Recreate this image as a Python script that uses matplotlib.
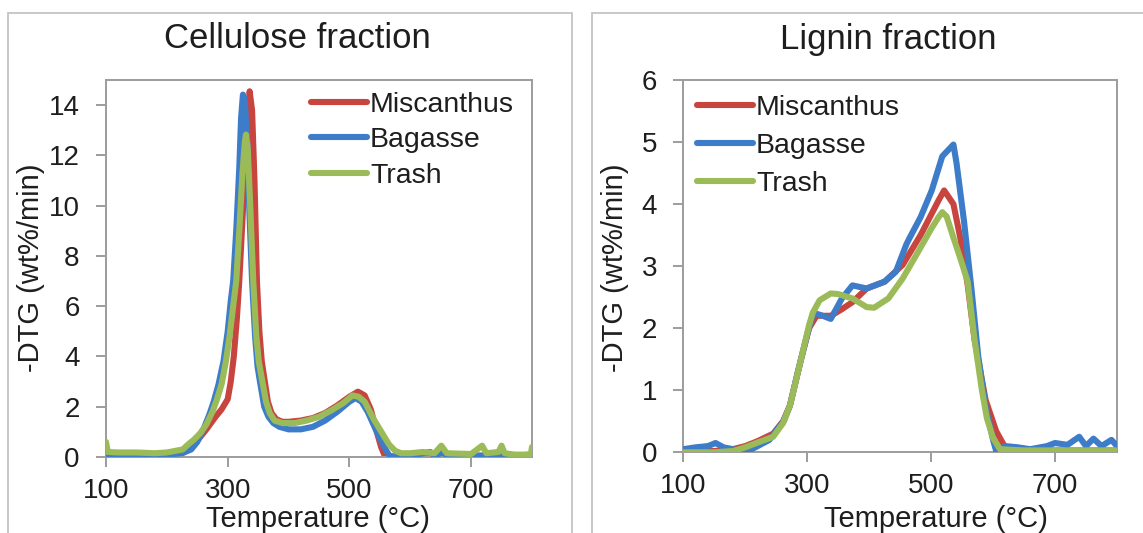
import matplotlib
matplotlib.use("Agg")
import matplotlib.pyplot as plt
from matplotlib.patches import Rectangle

plt.rcParams['font.family'] = ['Liberation Sans', 'DejaVu Sans']

# ---------------- data ----------------
series_names = ["Miscanthus", "Bagasse", "Trash"]
series_colors = ["#C8453F", "#3D7CC9", "#9BBB59"]

# Cellulose fraction
cell_T_misc = [100, 150, 200, 225, 240, 255, 265, 280, 290, 300, 305, 310, 315, 319, 325, 330, 336, 340, 344, 348, 352, 356, 361, 366, 372, 380, 390, 400, 420, 440, 460, 480, 500, 514, 525, 535, 545, 552, 558, 570, 600, 650, 700, 750, 800]
cell_v_misc = [0.1, 0.1, 0.1, 0.15, 0.35, 0.8, 1.1, 1.6, 1.9, 2.3, 3.0, 4.0, 5.5, 7.0, 9.8, 12.5, 14.55, 13.8, 11.0, 7.0, 5.0, 3.8, 3.0, 2.2, 1.75, 1.5, 1.4, 1.4, 1.45, 1.55, 1.75, 2.05, 2.4, 2.6, 2.45, 1.9, 1.0, 0.4, 0.05, 0.02, 0.03, 0.05, 0.05, 0.05, 0.05]

cell_T_bag = [100, 150, 200, 225, 240, 250, 260, 270, 277, 285, 293, 300, 305, 309, 314, 319, 322, 325, 328, 332, 336, 340, 345, 349, 353, 360, 367, 375, 385, 400, 420, 440, 460, 480, 500, 510, 520, 530, 545, 555, 563, 567, 600, 633, 640, 654, 660, 700, 780, 800]
cell_v_bag = [0.1, 0.1, 0.1, 0.15, 0.3, 0.6, 1.1, 1.7, 2.2, 2.9, 3.8, 5.0, 6.2, 7.0, 9.0, 11.5, 13.5, 14.42, 14.2, 12.5, 9.5, 7.0, 4.8, 3.6, 3.0, 2.0, 1.6, 1.35, 1.2, 1.1, 1.1, 1.2, 1.45, 1.8, 2.2, 2.35, 2.2, 1.8, 1.0, 0.5, 0.15, 0.02, 0.05, 0.2, 0.05, 0.2, 0.05, 0.05, 0.08, 0.1]

cell_T_trash = [100, 103, 120, 150, 180, 200, 215, 226, 235, 245, 255, 265, 275, 282, 290, 297, 303, 309, 314, 319, 324, 328, 330, 333, 337, 342, 347, 351, 357, 363, 369, 377, 390, 410, 430, 450, 470, 490, 505, 515, 525, 540, 555, 565, 575, 585, 600, 620, 640, 651, 660, 700, 718, 725, 745, 750, 755, 770, 790, 798, 800]
cell_v_trash = [0.6, 0.2, 0.18, 0.18, 0.15, 0.18, 0.25, 0.3, 0.5, 0.7, 0.95, 1.3, 1.8, 2.27, 2.9, 3.8, 4.8, 6.0, 7.0, 9.0, 11.2, 12.5, 12.83, 12.2, 10.0, 7.0, 4.8, 3.8, 3.0, 2.2, 1.75, 1.45, 1.35, 1.35, 1.45, 1.6, 1.85, 2.15, 2.45, 2.4, 2.2, 1.5, 0.9, 0.5, 0.25, 0.15, 0.15, 0.2, 0.15, 0.45, 0.15, 0.12, 0.45, 0.15, 0.2, 0.45, 0.15, 0.1, 0.08, 0.1, 0.4]

# Lignin fraction
lig_T_misc = [100, 150, 180, 200, 220, 245, 261, 272, 290, 303, 315, 338, 355, 373, 396, 425, 454, 483, 512, 521, 536, 547, 559, 570, 588, 605, 620, 650, 800]
lig_v_misc = [0.02, 0.02, 0.05, 0.1, 0.18, 0.3, 0.5, 0.75, 1.5, 2.0, 2.2, 2.2, 2.3, 2.42, 2.64, 2.75, 3.02, 3.5, 4.06, 4.22, 4.0, 3.46, 2.7, 1.82, 0.84, 0.34, 0.07, 0.03, 0.03]

lig_T_bag = [100, 120, 140, 152, 165, 180, 193, 205, 220, 239, 250, 262, 272, 285, 300, 310, 325, 338, 356, 373, 396, 425, 443, 460, 465, 483, 501, 518, 536, 541, 553, 565, 576, 588, 600, 605, 620, 640, 660, 687, 700, 720, 739, 750, 762, 775, 791, 800]
lig_v_bag = [0.05, 0.08, 0.1, 0.15, 0.08, 0.05, 0.0, 0.02, 0.1, 0.2, 0.35, 0.5, 0.75, 1.3, 1.9, 2.25, 2.2, 2.15, 2.48, 2.69, 2.64, 2.75, 2.91, 3.35, 3.45, 3.79, 4.22, 4.77, 4.96, 4.66, 3.73, 2.64, 1.55, 0.73, 0.2, 0.02, 0.1, 0.08, 0.05, 0.1, 0.15, 0.12, 0.25, 0.1, 0.22, 0.1, 0.2, 0.1]

lig_T_trash = [100, 150, 180, 200, 218, 245, 261, 272, 290, 303, 309, 320, 338, 350, 373, 396, 408, 431, 454, 483, 500, 512, 518, 525, 536, 548, 559, 570, 582, 590, 600, 611, 650, 700, 800]
lig_v_trash = [0.0, 0.0, 0.02, 0.08, 0.15, 0.25, 0.47, 0.75, 1.5, 2.05, 2.25, 2.45, 2.56, 2.55, 2.48, 2.34, 2.33, 2.48, 2.8, 3.3, 3.6, 3.79, 3.87, 3.8, 3.46, 3.1, 2.75, 1.82, 1.0, 0.55, 0.23, 0.05, 0.03, 0.03, 0.03]

x_ticks = [100, 300, 500, 700]
cell_y_ticks = [0, 2, 4, 6, 8, 10, 12, 14]
lig_y_ticks = [0, 1, 2, 3, 4, 5, 6]

# ---------------- figure ----------------
W, H = 1143, 533
fig = plt.figure(figsize=(W / 100, H / 100), dpi=100)

def fx(px):
    return px / W

def fy(py):
    return 1 - py / H

panel_col = "#c4c4c4"
axis_col = "#9c9c9c"
text_col = "#1e1e1e"

# panel borders
fig.patches.append(Rectangle((fx(8), fy(560)), fx(572 - 8), (560 - 12.7) / H,
                             transform=fig.transFigure, fill=False,
                             edgecolor=panel_col, linewidth=1.3))
fig.patches.append(Rectangle((fx(592), fy(560)), fx(1160 - 592), (560 - 12.7) / H,
                             transform=fig.transFigure, fill=False,
                             edgecolor=panel_col, linewidth=1.3))

L1, R1, T1, B1 = 106, 532, 80, 457
L2, R2, T2, B2 = 683.3, 1117, 80, 452.3
ax1 = fig.add_axes([fx(L1), fy(B1), fx(R1 - L1), (B1 - T1) / H])
ax2 = fig.add_axes([fx(L2), fy(B2), fx(R2 - L2), (B2 - T2) / H])

cell_data = [(cell_T_misc, cell_v_misc), (cell_T_bag, cell_v_bag), (cell_T_trash, cell_v_trash)]
lig_data = [(lig_T_misc, lig_v_misc), (lig_T_bag, lig_v_bag), (lig_T_trash, lig_v_trash)]

for ax, data, yticks, ymax in [(ax1, cell_data, cell_y_ticks, 15.0), (ax2, lig_data, lig_y_ticks, 6.0)]:
    for i, ((t, v), name, col) in enumerate(zip(data, series_names, series_colors)):
        ax.plot(t, v, color=col, lw=4.4, label=name, zorder=2 + i,
                solid_joinstyle='round', solid_capstyle='round')
    ax.set_xlim(100, 800)
    ax.set_ylim(0, ymax)
    ax.set_xticks(x_ticks)
    ax.set_yticks(yticks)
    for s in ax.spines.values():
        s.set_color(axis_col)
        s.set_linewidth(1.4)
    ax.tick_params(direction='out', length=7, width=1.4, color=axis_col,
                   labelsize=20, labelcolor=text_col)
    ax.tick_params(axis='y', pad=12)
    ax.tick_params(axis='x', pad=8)
    ax.set_xlabel("Temperature (°C)", fontsize=21, color=text_col)
    ax.set_ylabel("-DTG (wt%/min)", fontsize=21, color=text_col)
    ax.xaxis.label.set_va('center')
    ax.yaxis.label.set_va('center')
    ax.patch.set_alpha(0)

ax1.xaxis.set_label_coords((318 - L1) / (R1 - L1), -(519 - B1) / (B1 - T1))
ax2.xaxis.set_label_coords((936 - L2) / (R2 - L2), -(519 - B2) / (B2 - T2))
ax1.yaxis.set_label_coords(-(L1 - 31) / (R1 - L1), (B1 - 268) / (B1 - T1))
ax2.yaxis.set_label_coords(-(L2 - 615) / (R2 - L2), (B2 - 268) / (B2 - T2))

fig.text(fx(297), fy(39), "Cellulose fraction", fontsize=25, color=text_col,
         ha='center', va='center')
fig.text(fx(888), fy(39), "Lignin fraction", fontsize=25, color=text_col,
         ha='center', va='center')

leg_kw = dict(frameon=False, fontsize=20.5, handlelength=1.95, handletextpad=0.12,
              borderpad=0, borderaxespad=0)
leg1 = ax1.legend(loc='upper left', labelspacing=0.33,
                  bbox_to_anchor=(fx(311), fy(92)), bbox_transform=fig.transFigure, **leg_kw)
leg2 = ax2.legend(loc='upper left', labelspacing=0.42,
                  bbox_to_anchor=(fx(697), fy(95)), bbox_transform=fig.transFigure, **leg_kw)
for leg in (leg1, leg2):
    for t in leg.get_texts():
        t.set_color(text_col)

fig.savefig("out.png", dpi=100)
